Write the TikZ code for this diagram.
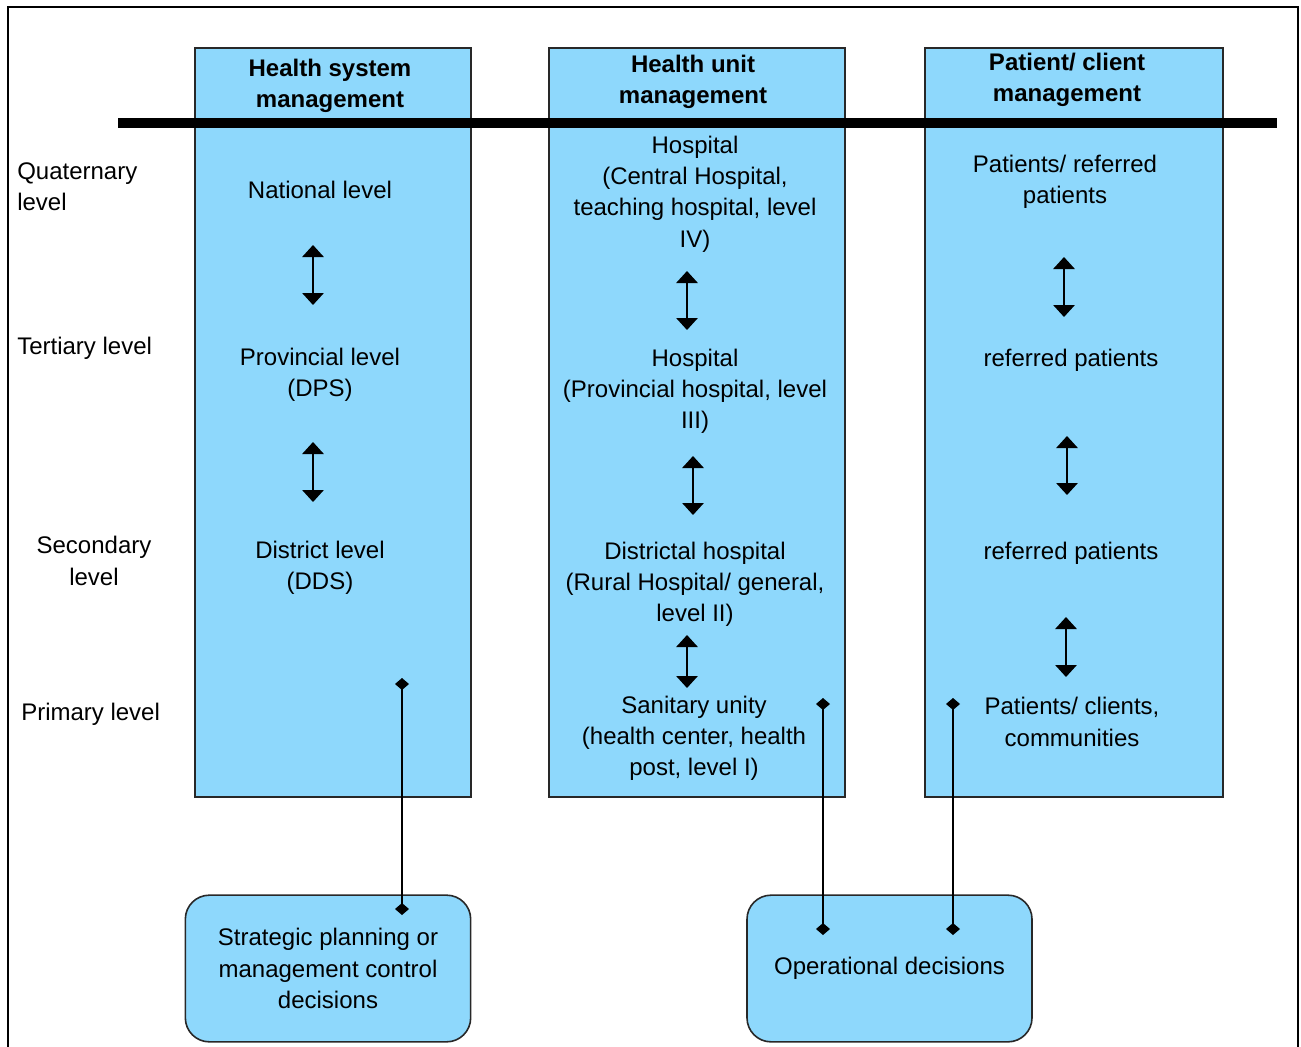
\documentclass[tikz,border=0pt]{standalone}
\usepackage{fontspec}
\setmainfont{Liberation Sans}
\usetikzlibrary{arrows.meta}
\definecolor{paleblue}{RGB}{142,216,252}
\definecolor{edgegray}{RGB}{40,40,40}
\begin{document}
\begin{tikzpicture}[x=0.75pt,y=-0.75pt,
  txt/.style={inner sep=0pt,align=center,font=\fontsize{18}{23.4}\selectfont},
  lefttxt/.style={inner sep=0pt,align=left,font=\fontsize{18}{23.4}\selectfont},
  head/.style={inner sep=0pt,align=center,font=\bfseries\fontsize{18}{23.4}\selectfont},
  colbox/.style={fill=paleblue,draw=edgegray,line width=1.2pt},
  decbox/.style={fill=paleblue,draw=edgegray,line width=1.2pt,rounded corners=18pt,
    minimum width=214pt,minimum height=110pt,inner sep=0pt,align=center,
    font=\fontsize{18}{23.4}\selectfont},
  updown/.style={line width=1.6pt,{Triangle[width=16pt,length=9pt]}-{Triangle[width=16pt,length=9pt]}},
  link/.style={line width=1.4pt,{Diamond[width=10.5pt,length=9pt]}-{Diamond[width=10.5pt,length=9pt]}}
]
\useasboundingbox (0,0) rectangle (1301,1046);
\fill[white] (0,0) rectangle (1301,1046);

% outer frame (its lower edge lies below the page)
\draw[line width=1.5pt,black] (7.5,1060) -- (7.5,6.5) -- (1297.5,6.5) -- (1297.5,1060);

% the three management columns
\draw[colbox] (195,48) rectangle (471,797);
\draw[colbox] (549,48) rectangle (845,797);
\draw[colbox] (925,48) rectangle (1223,797);

% column headings and the heavy rule beneath them
\node[head] (h1) at (330,86) {Health system\\management};
\node[head] (h2) at (693,82) {Health unit\\management};
\node[head] (h3) at (1067,80) {Patient/ client\\management};
\draw[line width=7.5pt] (118,123) -- (1277,123);

% care levels
\node[lefttxt,anchor=west] (lq) at (17,187) {Quaternary\\level};
\node[lefttxt,anchor=west] (lt) at (17,348) {Tertiary level};
\node[txt] (ls) at (94,561) {Secondary\\level};
\node[lefttxt,anchor=west] (lp) at (21,714) {Primary level};

% health system management
\node[txt] (nat) at (320,190) {National level};
\node[txt] (prov) at (320,375) {Provincial level\\(DPS)};
\node[txt] (dist) at (320,568) {District level\\(DDS)};
\coordinate (a1t) at (313,245); \coordinate (a1b) at (313,305);
\coordinate (a2t) at (313,442); \coordinate (a2b) at (313,502);
\draw[updown] (a1t) -- (a1b);
\draw[updown] (a2t) -- (a2b);

% health unit management
\node[txt] (hosp4) at (695,194) {Hospital\\(Central Hospital,\\teaching hospital, level\\IV)};
\node[txt] (hosp3) at (695,391) {Hospital\\(Provincial hospital, level\\III)};
\node[txt] (hosp2) at (695,584) {Districtal hospital\\(Rural Hospital/ general,\\level II)};
\node[txt] (hosp1) at (694,738) {Sanitary unity\\(health center, health\\post, level I)};
\coordinate (b1t) at (687,271); \coordinate (b1b) at (687,330);
\coordinate (b2t) at (693,456); \coordinate (b2b) at (693,515);
\coordinate (b3t) at (687,635); \coordinate (b3b) at (687,688);
\draw[updown] (b1t) -- (b1b);
\draw[updown] (b2t) -- (b2b);
\draw[updown] (b3t) -- (b3b);

% patient / client management
\node[txt] (pat4) at (1065,182) {Patients/ referred\\patients};
\node[txt] (pat3) at (1071,360) {referred patients};
\node[txt] (pat2) at (1071,553) {referred patients};
\node[txt] (pat1) at (1072,722) {Patients/ clients,\\communities};
\coordinate (c1t) at (1064,257); \coordinate (c1b) at (1064,317);
\coordinate (c2t) at (1067,436); \coordinate (c2b) at (1067,495);
\coordinate (c3t) at (1066,617); \coordinate (c3b) at (1066,677);
\draw[updown] (c1t) -- (c1b);
\draw[updown] (c2t) -- (c2b);
\draw[updown] (c3t) -- (c3b);

% decision types
\node[decbox] (strat) at (328,968.5) {Strategic planning or\\management control\\decisions};
\node[decbox,minimum width=213.75pt] (oper) at (889.5,968.5) {Operational decisions};

% links from the columns to the decision types
\coordinate (s1) at (402,678); \coordinate (s2) at (402,915);
\coordinate (o1) at (823,698); \coordinate (o2) at (823,935);
\coordinate (p1) at (953,698); \coordinate (p2) at (953,935);
\draw[link] (s1) -- (s2);
\draw[link] (o1) -- (o2);
\draw[link] (p1) -- (p2);
\end{tikzpicture}
\end{document}
